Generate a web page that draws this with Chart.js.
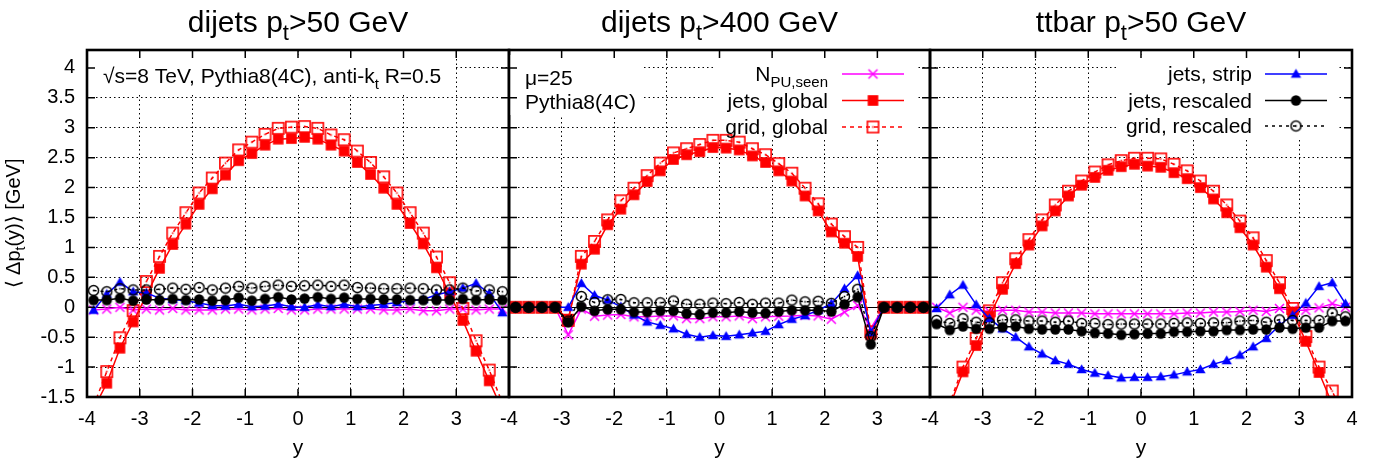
<!DOCTYPE html>
<html><head><meta charset="utf-8">
<script src="https://cdn.jsdelivr.net/npm/chart.js@4.4.1/dist/chart.umd.min.js"></script>
<style>
html,body{margin:0;padding:0;background:#fff;}
#wrap{position:relative;width:1384px;height:464px;overflow:hidden;background:#fff;}
#wrap canvas{position:absolute;left:0;top:0;}
</style></head><body>
<div id="wrap">
<canvas id="c1" width="1384" height="464"></canvas>
<canvas id="c2" width="1384" height="464"></canvas>
<canvas id="c3" width="1384" height="464"></canvas>
</div>
<script>
// ---------- data ----------
const yBins = [-3.875,-3.625,-3.375,-3.125,-2.875,-2.625,-2.375,-2.125,-1.875,-1.625,-1.375,-1.125,-0.875,-0.625,-0.375,-0.125,
               0.125,0.375,0.625,0.875,1.125,1.375,1.625,1.875,2.125,2.375,2.625,2.875,3.125,3.375,3.625,3.875];
const xTickValues = [-4,-3,-2,-1,0,1,2,3,4];
const yTickValues = [-1.5,-1,-0.5,0,0.5,1,1.5,2,2.5,3,3.5,4];
const panelTitles = ['dijets p|t|>50 GeV','dijets p|t|>400 GeV','ttbar p|t|>50 GeV'];
const seriesLabels = ['N|PU,seen|','jets, global','grid, global','jets, strip','jets, rescaled','grid, rescaled'];

// panel 1: dijets pt>50 GeV
const npu1   = [-0.045,-0.03,0.0,-0.045,-0.03,-0.045,-0.02,-0.045,-0.045,-0.045,-0.03,-0.03,-0.045,-0.03,-0.02,-0.045,
                -0.045,-0.03,-0.03,-0.03,-0.03,-0.03,-0.045,-0.045,-0.03,-0.06,-0.06,-0.03,-0.03,-0.045,-0.03,-0.03];
const jetsG1 = [-1.7,-1.27,-0.685,-0.245,0.2,0.65,1.05,1.39,1.72,1.98,2.21,2.45,2.57,2.71,2.81,2.82,
                2.84,2.81,2.71,2.61,2.42,2.22,1.99,1.72,1.40,1.06,0.66,0.22,-0.22,-0.735,-1.23,-1.72];
const gridG1 = [-1.65,-1.075,-0.51,-0.056,0.43,0.85,1.24,1.58,1.91,2.16,2.41,2.63,2.76,2.89,2.99,3.01,
                3.02,2.99,2.88,2.80,2.61,2.42,2.18,1.91,1.58,1.24,0.84,0.41,-0.02,-0.56,-1.05,-1.6];
const jetsS1 = [-0.05,0.22,0.42,0.26,0.24,0.15,0.13,0.11,0.07,0.03,0.02,0.05,0.01,0.02,0.05,0.01,
                0.0,0.04,0.01,0.05,0.01,0.03,0.05,0.08,0.11,0.13,0.21,0.26,0.32,0.40,0.23,-0.09];
const jetsR1 = [0.12,0.12,0.15,0.11,0.13,0.12,0.14,0.12,0.13,0.11,0.12,0.16,0.11,0.14,0.17,0.13,
                0.145,0.17,0.14,0.16,0.14,0.14,0.13,0.13,0.12,0.12,0.12,0.12,0.14,0.12,0.13,0.12];
const gridR1 = [0.28,0.26,0.31,0.29,0.29,0.30,0.32,0.30,0.33,0.29,0.32,0.35,0.32,0.35,0.37,0.35,
                0.36,0.37,0.35,0.37,0.33,0.32,0.31,0.31,0.32,0.31,0.29,0.29,0.32,0.27,0.29,0.26];

// panel 2: dijets pt>400 GeV
const npu2   = [0,0,0,0,-0.46,-0.03,-0.15,-0.13,-0.12,-0.16,-0.16,-0.145,-0.145,-0.19,-0.19,-0.16,
                -0.16,-0.145,-0.19,-0.16,-0.15,-0.145,-0.135,-0.145,-0.2,-0.08,0.03,-0.35,0,0,0,0];
const jetsG2 = [0,0,0,0,-0.2,0.72,0.97,1.38,1.64,1.88,2.10,2.28,2.47,2.55,2.60,2.67,
                2.66,2.63,2.53,2.42,2.28,2.11,1.86,1.61,1.26,1.07,0.85,-0.46,0,0,0,0];
const gridG2 = [0,0,0,0,-0.22,0.85,1.10,1.46,1.78,1.99,2.20,2.41,2.58,2.65,2.72,2.79,
                2.79,2.76,2.65,2.55,2.40,2.24,1.99,1.73,1.39,1.18,1.00,-0.41,0,0,0,0];
const jetsS2 = [0,0,0,0,0.0,0.40,0.20,0.12,0.01,-0.13,-0.245,-0.30,-0.36,-0.45,-0.50,-0.47,
                -0.485,-0.46,-0.43,-0.40,-0.29,-0.20,-0.14,-0.05,0.06,0.31,0.53,-0.42,0,0,0,0];
const jetsR2 = [0,0,0,0,-0.25,0.01,-0.06,-0.035,-0.035,-0.08,-0.08,-0.06,-0.06,-0.106,-0.12,-0.09,
                -0.09,-0.07,-0.09,-0.1,-0.07,-0.05,-0.05,-0.05,-0.07,0.05,0.17,-0.62,0,0,0,0];
const gridR2 = [0,0,0,0,-0.23,0.18,0.08,0.125,0.13,0.075,0.075,0.075,0.105,0.05,0.05,0.07,
                0.06,0.08,0.05,0.07,0.07,0.12,0.09,0.1,0.065,0.18,0.30,-0.49,0,0,0,0];

// panel 3: ttbar pt>50 GeV
const npu3   = [0.0,-0.095,0.0,-0.05,-0.07,-0.05,-0.05,-0.08,-0.08,-0.095,-0.095,-0.095,-0.11,-0.11,-0.11,-0.11,
                -0.11,-0.11,-0.11,-0.095,-0.095,-0.08,-0.08,-0.07,-0.05,-0.07,-0.02,-0.05,-0.05,-0.01,0.06,0.0];
const jetsG3 = [-2.2,-1.65,-1.08,-0.64,-0.15,0.30,0.73,1.04,1.36,1.61,1.86,2.04,2.17,2.29,2.35,2.39,
                2.36,2.34,2.25,2.15,2.00,1.81,1.58,1.33,1.04,0.67,0.31,-0.08,-0.57,-1.09,-1.62,-2.1];
const gridG3 = [-2.0,-1.6,-1.0,-0.52,-0.06,0.41,0.81,1.13,1.46,1.71,1.94,2.11,2.26,2.38,2.45,2.49,
                2.49,2.48,2.39,2.28,2.11,1.94,1.71,1.44,1.16,0.78,0.41,-0.02,-0.49,-1.00,-1.40,-1.9];
const jetsS3 = [-0.02,0.21,0.37,0.045,-0.19,-0.36,-0.50,-0.66,-0.78,-0.89,-0.95,-1.04,-1.10,-1.14,-1.18,-1.17,
                -1.17,-1.16,-1.13,-1.08,-1.04,-0.95,-0.89,-0.80,-0.66,-0.52,-0.30,-0.134,0.07,0.35,0.41,0.06];
const jetsR3 = [-0.28,-0.38,-0.32,-0.36,-0.36,-0.33,-0.32,-0.36,-0.37,-0.37,-0.37,-0.40,-0.43,-0.44,-0.46,-0.45,
                -0.44,-0.44,-0.41,-0.41,-0.40,-0.40,-0.38,-0.38,-0.37,-0.37,-0.34,-0.36,-0.34,-0.34,-0.23,-0.23];
const gridR3 = [-0.22,-0.27,-0.19,-0.25,-0.26,-0.21,-0.21,-0.23,-0.23,-0.25,-0.23,-0.27,-0.27,-0.29,-0.28,-0.28,
                -0.28,-0.28,-0.27,-0.26,-0.27,-0.26,-0.26,-0.23,-0.22,-0.25,-0.21,-0.22,-0.22,-0.22,-0.095,-0.16];

const panelSeries = [
  [npu1, jetsG1, gridG1, jetsS1, jetsR1, gridR1],
  [npu2, jetsG2, gridG2, jetsS2, jetsR2, gridR2],
  [npu3, jetsG3, gridG3, jetsS3, jetsR3, gridR3]
];

// ---------- styling ----------
const FF = '"Liberation Sans", Arial, Helvetica, sans-serif';
function mk(size, draw){ const c=document.createElement('canvas'); c.width=c.height=size; const g=c.getContext('2d'); draw(g,size/2); return c; }
const mCross = mk(13,(g,c)=>{g.strokeStyle='#ff00ff';g.lineWidth=1.5;g.beginPath();g.moveTo(c-4.5,c-4.5);g.lineTo(c+4.5,c+4.5);g.moveTo(c+4.5,c-4.5);g.lineTo(c-4.5,c+4.5);g.stroke();});
const mSqF = mk(13,(g,c)=>{g.fillStyle='#ff0000';g.fillRect(c-5.3,c-5.3,10.6,10.6);});
const mSqO = mk(15,(g,c)=>{g.strokeStyle='#ff0000';g.lineWidth=1.6;g.strokeRect(c-5.6,c-5.6,11.2,11.2);g.fillStyle='#ff0000';g.fillRect(c-0.8,c-0.8,1.6,1.6);});
const mTri = mk(13,(g,c)=>{g.fillStyle='#0000ff';g.beginPath();g.moveTo(c,c-5.2);g.lineTo(c+5.2,c+3.8);g.lineTo(c-5.2,c+3.8);g.closePath();g.fill();});
const mCirF = mk(13,(g,c)=>{g.fillStyle='#000';g.beginPath();g.arc(c,c,5.2,0,Math.PI*2);g.fill();});
const mCirO = mk(15,(g,c)=>{g.strokeStyle='#000';g.lineWidth=1.5;g.beginPath();g.arc(c,c,5,0,Math.PI*2);g.stroke();g.fillStyle='#000';g.fillRect(c-0.8,c-0.8,1.6,1.6);});

const seriesStyles = [
  {color:'#ff00ff', dash:[],    marker:mCross},
  {color:'#ff0000', dash:[],    marker:mSqF},
  {color:'#ff0000', dash:[4,4], marker:mSqO},
  {color:'#0000ff', dash:[],    marker:mTri},
  {color:'#000000', dash:[],    marker:mCirF},
  {color:'#000000', dash:[3,4], marker:mCirO}
];

function parseRich(s){ return s.split('|').map((t,i)=>({t, sub: i%2===1})).filter(o=>o.t.length); }
function drawRich(ctx, str, x, y, align, size){
  const segs = parseRich(str);
  const fb = size+'px '+FF, fs = Math.round(size*0.72)+'px '+FF;
  let w=0;
  for (const s of segs){ ctx.font = s.sub?fs:fb; s.w = ctx.measureText(s.t).width; w += s.w; }
  let cx = align==='right' ? x-w : align==='center' ? x-w/2 : x;
  ctx.textAlign='left'; ctx.textBaseline='alphabetic'; ctx.fillStyle='#000';
  for (const s of segs){ ctx.font = s.sub?fs:fb; ctx.fillText(s.t, cx, y + (s.sub? size*0.27 : 0)); cx += s.w; }
}

const panelLayout = [
  {left:87,  right:509,  showLast:false, yLabels:true,
   boxes:[[88,55,453,92]],
   notes:[{t:'√s=8 TeV, Pythia8(4C), anti-k|t| R=0.5', x:103, y:83}],
   legend:null},
  {left:509, right:930,  showLast:false, yLabels:false,
   boxes:[[510,55,641,115],[716,55,916,140]],
   notes:[{t:'μ=25', x:525, y:85},{t:'Pythia8(4C)', x:525, y:109}],
   legend:{items:[0,1,2], textRight:828, x1:842, x2:904, rows:[74,100.5,127]}},
  {left:930, right:1352, showLast:true, yLabels:false,
   boxes:[[1117,55,1338,140]],
   notes:[],
   legend:{items:[3,4,5], textRight:1252, x1:1265, x2:1327, rows:[74,100.5,126]}}
];

const decor = {
  id:'decor',
  beforeDatasetsDraw(chart, args, o){
    const {ctx, chartArea:a} = chart, y = chart.scales.y;
    ctx.save();
    const y0 = Math.round(y.getPixelForValue(0))+0.5;
    ctx.strokeStyle='#000'; ctx.lineWidth=1; ctx.setLineDash([]);
    ctx.beginPath(); ctx.moveTo(a.left,y0); ctx.lineTo(a.right,y0); ctx.stroke();
    ctx.fillStyle='#fff';
    for (const b of o.lay.boxes) ctx.fillRect(b[0],b[1],b[2]-b[0],b[3]-b[1]);
    ctx.restore();
  },
  afterDraw(chart, args, o){
    const {ctx, chartArea:a} = chart, xs = chart.scales.x, ys = chart.scales.y, lay = o.lay;
    ctx.save();
    ctx.setLineDash([]); ctx.strokeStyle='#000';
    ctx.lineWidth=1.5; ctx.beginPath();
    for (const v of xTickValues){ const px = xs.getPixelForValue(v); ctx.moveTo(px,a.top); ctx.lineTo(px,a.top+8); ctx.moveTo(px,a.bottom); ctx.lineTo(px,a.bottom-8); }
    for (const v of yTickValues){ const py = ys.getPixelForValue(v); ctx.moveTo(a.left,py); ctx.lineTo(a.left+8,py); ctx.moveTo(a.right,py); ctx.lineTo(a.right-8,py); }
    ctx.stroke();
    ctx.lineWidth=2.6; ctx.strokeRect(a.left,a.top,a.right-a.left,a.bottom-a.top);
    drawRich(ctx, o.title, (a.left+a.right)/2, 32, 'center', 30);
    for (const n of lay.notes) drawRich(ctx, n.t, n.x, n.y, 'left', 21);
    if (lay.legend){
      const L = lay.legend;
      L.items.forEach((di,k)=>{
        const yy = L.rows[k], st = seriesStyles[di];
        drawRich(ctx, seriesLabels[di], L.textRight, yy+7, 'right', 21);
        ctx.strokeStyle = st.color; ctx.lineWidth=1.5; ctx.setLineDash(st.dash);
        ctx.beginPath(); ctx.moveTo(L.x1,yy); ctx.lineTo(L.x2,yy); ctx.stroke();
        ctx.setLineDash([]);
        ctx.drawImage(st.marker, (L.x1+L.x2)/2 - st.marker.width/2, yy - st.marker.height/2);
      });
    }
    if (lay.yLabels){
      ctx.save(); ctx.translate(20, (a.top+a.bottom)/2); ctx.rotate(-Math.PI/2);
      drawRich(ctx, '⟨ Δp|t|(y)⟩ [GeV]', 0, 0, 'center', 20);
      ctx.restore();
    }
    ctx.restore();
  }
};

panelLayout.forEach((lay, p)=>{
  const datasets = panelSeries[p].map((vals, i)=>({
    label: seriesLabels[i].replace(/\|/g,''),
    data: yBins.map((x,j)=>({x, y: vals[j]})),
    borderColor: seriesStyles[i].color,
    backgroundColor: seriesStyles[i].color,
    borderWidth: 1.5,
    borderDash: seriesStyles[i].dash,
    pointStyle: seriesStyles[i].marker,
    pointRadius: 5,
    showLine: true,
    tension: 0,
    order: 5 - i
  }));
  new Chart(document.getElementById('c'+(p+1)), {
    type:'scatter',
    data:{datasets},
    plugins:[decor],
    options:{
      responsive:false, devicePixelRatio:1, animation:false, events:[],
      layout:{padding:{left: lay.yLabels?0:lay.left, right:1384-lay.right, top:50, bottom:0}},
      plugins:{legend:{display:false}, tooltip:{enabled:false}, title:{display:false},
               decor:{lay, title: panelTitles[p]}},
      scales:{
        x:{type:'linear', min:-4, max:4,
           afterBuildTicks: s=>{ s.ticks = xTickValues.map(v=>({value:v})); },
           afterFit: s=>{ s.height = 67; },
           grid:{color:'#000', lineWidth:1, drawTicks:false},
           border:{display:false, dash:[1.5,3]},
           ticks:{autoSkip:false, maxRotation:0, padding:10, color:'#000', font:{family:FF, size:20},
                  callback:(v)=> (v===4 && !lay.showLast) ? '' : String(v)},
           title:{display:true, text:'y', color:'#000', font:{family:FF, size:21}, padding:{top:0,bottom:3}}},
        y:{type:'linear', min:-1.5, max:4.3,
           afterBuildTicks: s=>{ s.ticks = yTickValues.map(v=>({value:v})); },
           afterFit: s=>{ s.width = lay.yLabels ? lay.left : 0; },
           grid:{color:'#000', lineWidth:1, drawTicks:false},
           border:{display:false, dash:[1.5,3]},
           ticks:{display: lay.yLabels, padding:12, color:'#000', font:{family:FF, size:20},
                  callback:(v)=>String(v)}}
      }
    }
  });
});
</script>
</body></html>
